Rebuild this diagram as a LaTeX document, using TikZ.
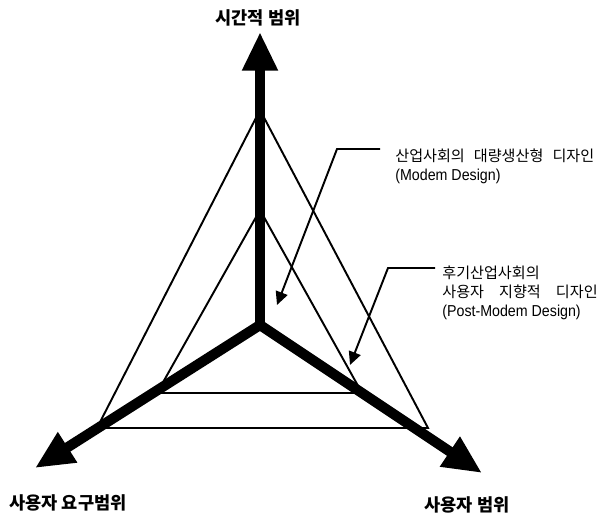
\documentclass[tikz,border=0pt]{standalone}
\usepackage{fontspec}
\setmainfont{Noto Sans CJK KR}
\newfontfamily\narrowfont[FakeStretch=0.9]{Liberation Sans}
\usetikzlibrary{arrows.meta,calc}

\newcommand{\notefont}{\fontsize{8.6}{10.8}\selectfont\spaceskip=0.6em\relax}
\newcommand{\engline}[1]{{\narrowfont\fontsize{9}{10.8}\selectfont\spaceskip=0pt\relax #1}}
\tikzset{
  axis/.style={line width=5.8pt, line cap=round, -{Triangle[length=22pt,width=19pt]}},
  tri/.style={line width=1.1pt, line join=miter},
  leader/.style={line width=1.1pt, -{Triangle[length=7.5pt,width=7pt]}},
  axislabel/.style={font=\bfseries\fontsize{10}{12}\selectfont},
  note/.style={font=\notefont, align=left, inner sep=0pt, anchor=north west},
}

\begin{document}
\begin{tikzpicture}[x=0.02cm,y=-0.02cm]
    \useasboundingbox (0,0) rectangle (598,520);
    % centre and axis ends
    \coordinate (o) at (260,325);
    \coordinate (top) at (260,32);
    \coordinate (left) at (35,468);
    \coordinate (right) at (482,473);
    % outer and inner triangles
    \coordinate (outA) at (260,110);
    \coordinate (outB) at (97,428);
    \coordinate (outC) at (428,428);
    \coordinate (inA) at (260,210);
    \coordinate (inB) at (157,393);
    \coordinate (inC) at (362,393);
    \draw[tri] (outA) -- (outB) -- (outC) -- cycle;
    \draw[tri] (inA) -- (inB) -- (inC) -- cycle;
    % axes
    \draw[axis] (o) -- (top);
    \draw[axis] (o) -- (left);
    \draw[axis] (o) -- (right);
    \node[axislabel] (timelbl) at (258,18) {시간적 범위};
    \node[axislabel] (needlbl) at (68,503) {사용자 요구범위};
    \node[axislabel] (userlbl) at (467,505) {사용자 범위};
    % notes
    \node[note] (modern) at (395,149) {산업사회의 대량생산형 디자인\\\engline{(Modem Design)}};
    \node[note] (postmodern) at (442,266) {후기산업사회의\\{\spaceskip=1em\relax 사용자 지향적 디자인}\\\engline{(Post-Modem Design)}};
    \coordinate (m0) at (380,149);
    \coordinate (m1) at (337,149);
    \coordinate (mtip) at (277,305);
    \coordinate (p0) at (435,268);
    \coordinate (p1) at (388,268);
    \coordinate (ptip) at (350,365);
    \draw[leader] (m0) -- (m1) -- (mtip);
    \draw[leader] (p0) -- (p1) -- (ptip);
\end{tikzpicture}
\end{document}
